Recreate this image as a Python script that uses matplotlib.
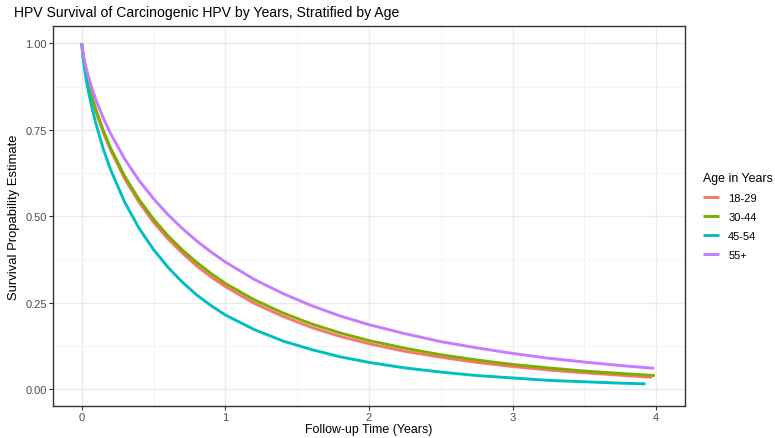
import matplotlib
matplotlib.use("Agg")
import matplotlib.pyplot as plt
from matplotlib.ticker import MultipleLocator, FormatStrFormatter

plt.rcParams["font.family"] = ["Liberation Sans", "DejaVu Sans"]

# survival estimates per age group, follow-up time in years
t_grid = [0, 0.01, 0.02, 0.04, 0.07, 0.1, 0.15, 0.2, 0.3, 0.4, 0.5, 0.6, 0.7, 0.8, 0.9, 1.0,
          1.2, 1.4, 1.6, 1.8, 2.0, 2.25, 2.5, 2.75, 3.0, 3.25, 3.5, 3.75]

t_18_29 = t_grid + [3.97]
s_18_29 = [1.0, 0.961, 0.935, 0.894, 0.844, 0.802, 0.742, 0.692, 0.608, 0.540, 0.483, 0.435,
           0.394, 0.357, 0.325, 0.297, 0.249, 0.211, 0.179, 0.153, 0.132, 0.110, 0.093,
           0.078, 0.066, 0.056, 0.048, 0.041, 0.035]

t_30_44 = t_grid + [3.99]
s_30_44 = [1.0, 0.962, 0.937, 0.897, 0.848, 0.806, 0.748, 0.698, 0.615, 0.548, 0.492, 0.444,
           0.403, 0.367, 0.335, 0.306, 0.259, 0.221, 0.189, 0.163, 0.141, 0.119, 0.100,
           0.085, 0.072, 0.062, 0.053, 0.046, 0.040]

t_45_54 = t_grid + [3.925]
s_45_54 = [1.0, 0.955, 0.924, 0.875, 0.816, 0.766, 0.695, 0.636, 0.540, 0.465, 0.404, 0.353,
           0.310, 0.273, 0.242, 0.215, 0.173, 0.140, 0.115, 0.094, 0.078, 0.062, 0.050,
           0.040, 0.033, 0.026, 0.022, 0.018, 0.016]

t_55 = t_grid + [3.985]
s_55 = [1.0, 0.968, 0.947, 0.913, 0.871, 0.835, 0.784, 0.740, 0.665, 0.603, 0.551, 0.505,
        0.465, 0.429, 0.397, 0.368, 0.318, 0.277, 0.242, 0.212, 0.187, 0.161, 0.138,
        0.120, 0.104, 0.090, 0.079, 0.069, 0.061]

groups = ["18-29", "30-44", "45-54", "55+"]
times = [t_18_29, t_30_44, t_45_54, t_55]
surv = [s_18_29, s_30_44, s_45_54, s_55]
colors = ["#F8766D", "#7CAE00", "#00BFC4", "#C77CFF"]

fig = plt.figure(figsize=(7.75, 4.39), dpi=100)
ax = fig.add_axes([0.0684, 0.0729, 0.8155, 0.8656])

for g, t, s, c in zip(groups, times, surv, colors):
    ax.plot(t, s, color=c, lw=2.1, label=g, solid_capstyle="butt", solid_joinstyle="round")

ax.set_xlim(-0.2, 4.2)
ax.set_ylim(-0.048, 1.05)
ax.xaxis.set_major_locator(MultipleLocator(1))
ax.xaxis.set_minor_locator(MultipleLocator(0.5))
ax.yaxis.set_major_locator(MultipleLocator(0.25))
ax.yaxis.set_minor_locator(MultipleLocator(0.125))
ax.yaxis.set_major_formatter(FormatStrFormatter("%.2f"))

ax.grid(which="major", color="#EBEBEB", lw=1.0)
ax.grid(which="minor", color="#F3F3F3", lw=0.6)
ax.set_axisbelow(True)
for sp in ax.spines.values():
    sp.set_color("#333333")
    sp.set_linewidth(1.0)
ax.tick_params(which="major", length=3, width=0.8, color="#333333",
               labelsize=8, labelcolor="#4D4D4D", pad=1.5)
ax.tick_params(which="minor", length=0)

ax.set_xlabel("Follow-up Time (Years)", fontsize=8.9, labelpad=0.5)
ax.set_ylabel("Survival Propability Estimate", fontsize=9.4, labelpad=4)
fig.text(0.018, 0.97, "HPV Survival of Carcinogenic HPV by Years, Stratified by Age",
         fontsize=10.1, ha="left", va="center")

leg = ax.legend(title="Age in Years", loc="center left", bbox_to_anchor=(1.012, 0.5),
                frameon=False, fontsize=8, title_fontsize=8.9, handlelength=1.5,
                labelspacing=0.8, handletextpad=0.8)
leg._legend_box.align = "left"

fig.savefig("out.png", dpi=100)
